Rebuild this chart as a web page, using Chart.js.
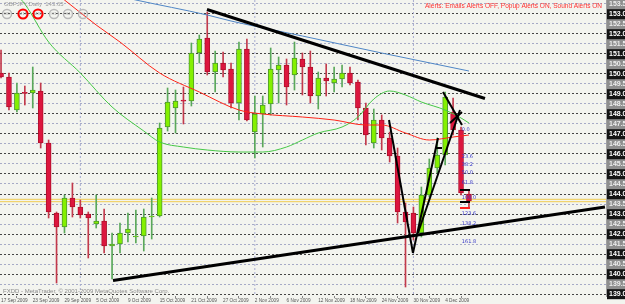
<!DOCTYPE html>
<html>
<head>
<meta charset="utf-8">
<script src="https://cdn.jsdelivr.net/npm/chart.js@4.4.0/dist/chart.umd.min.js"></script>
<style>
html, body { margin: 0; padding: 0; background: #f3f4ef; overflow: hidden; }
#grafico { display: block; }
</style>
</head>
<body>
<canvas id="grafico" width="625" height="304"></canvas>
<script>
// Candles (daily), index 0 = 17 Sep 2009
const opens  = [150.05,149.85,148.20,149.08,149.05,149.15,146.55,143.05,142.35,143.80,
                143.35,143.00,142.50,142.65,141.40,141.50,142.05,141.85,141.90,142.85,
                142.90,147.35,148.30,148.66,148.65,151.05,151.80,150.10,150.55,150.25,
                148.55,151.25,147.10,148.00,148.50,150.20,150.45,149.95,150.75,150.35,
                148.90,149.80,149.55,149.75,150.05,149.60,148.30,146.55,147.70,146.80,
                145.90,143.10,143.05,142.05,143.95,145.30,145.95,148.10,147.20,144.00];
const highs  = [151.20,150.05,149.55,149.40,150.35,149.55,146.70,143.10,143.95,144.55,
                143.70,143.10,143.95,143.25,142.05,142.55,143.05,143.20,143.25,143.80,
                147.55,149.30,149.20,149.35,151.55,151.95,153.10,151.15,151.10,150.55,
                151.60,151.75,148.90,148.90,151.30,150.85,150.75,151.60,151.05,151.15,
                150.10,150.50,150.35,150.45,150.35,149.70,148.55,148.25,147.95,147.10,
                146.30,143.55,143.35,144.35,145.75,146.80,149.10,148.80,147.35,144.20];
const lows   = [149.80,148.20,148.10,148.45,148.30,146.30,142.80,139.55,142.05,142.85,
                142.80,140.80,142.30,141.05,139.75,141.05,141.60,141.55,141.15,141.75,
                142.85,147.15,147.05,147.50,148.40,150.55,149.95,149.10,149.85,148.30,
                147.70,147.65,145.80,146.35,147.95,148.55,148.45,149.20,148.95,148.55,
                148.25,148.90,149.10,149.35,149.45,147.70,146.45,146.30,146.20,145.60,
                142.55,139.35,141.70,141.85,143.85,145.05,145.45,146.95,143.95,143.35];
const closes = [149.85,148.35,149.05,149.03,149.20,146.55,143.10,142.35,143.80,143.35,
                142.95,142.80,142.65,141.40,141.50,142.05,142.25,141.90,142.85,142.90,
                147.30,148.60,148.65,148.64,151.05,151.75,150.10,150.55,150.20,148.55,
                151.25,147.70,148.00,148.45,150.25,150.45,149.35,150.80,150.35,148.90,
                149.80,149.65,149.75,150.05,149.55,148.30,146.95,147.70,146.80,145.90,
                143.10,142.60,142.05,143.95,145.30,145.95,148.85,147.20,144.05,143.65];

// Moving averages: [bar index, price]
const maBlue  = [[12,154.15],[17,153.70],[26,152.95],[29,152.65],[38,151.90],[48,151.05],[59,150.15]];
const maRed   = [[7,154.00],[8,153.70],[12,152.45],[15,151.60],[20,150.05],[25,149.10],[30,148.20],
                 [33,148.00],[38,147.85],[42,147.70],[46,147.45],[48,147.45],[51,147.05],[54,146.70],
                 [57,146.85],[59,146.95]];
const maGreen = [[2,153.95],[3,153.50],[6,151.60],[10,150.05],[14,148.35],[18,147.15],[20,146.60],
                 [23,146.35],[26,146.20],[30,146.10],[33,146.10],[36,146.35],[38,146.70],[40,147.05],
                 [43,147.35],[45,147.85],[47,148.75],[49,149.15],[51,148.95],[53,148.60],[56,148.20],
                 [58,147.80],[59,147.55]];

// Hand drawn objects: [bar index, price]
const trendLines = [
    [[25.97,153.225],[61.02,148.775]],
    [[14.12,139.675],[76.15,143.35]]
];
const vLines = [
    [[48.92,147.70],[51.94,141.05]],
    [[51.94,141.05],[55.10,146.80]],
    [[52.57,142.05],[57.87,148.20]],
    [[55.73,149.10],[58.12,147.45]],
    [[56.61,147.55],[58.12,148.10]]
];
const shortBlack = [[54.72,55.60,146.30],[57.87,59.13,144.20],[57.87,59.13,143.60]];
const shortRed = [[57.87,59.13,143.30]];
const fibLabels = ['0.0','23.6','38.2','50.0','61.8','100.0','123.6','138.2','161.8'];
const fibPrices = [147.20,145.85,145.45,145.05,144.55,143.80,143.00,142.50,141.60];
const fibIdx = 58.1;

const bidLevels = [143.735, 143.615];
const separators = [10, 32, 52];

const dateLabels = ['17 Sep 2009','23 Sep 2009','29 Sep 2009','5 Oct 2009','9 Oct 2009','15 Oct 2009',
                    '21 Oct 2009','27 Oct 2009','2 Nov 2009','6 Nov 2009','12 Nov 2009','18 Nov 2009',
                    '24 Nov 2009','30 Nov 2009','4 Dec 2009'];
const dateTickIdx = [0,4,8,12,16,20,24,28,32,36,40,44,48,52,56];
const priceTicks = [139.0,139.5,140.0,140.5,141.0,141.5,142.0,142.5,143.0,143.5,144.0,144.5,
                    145.0,145.5,146.0,146.5,147.0,147.5,148.0,148.5,149.0,149.5,150.0,150.5,
                    151.0,151.5,152.0,152.5,153.0,153.5];

const X_MIN = -0.13, X_MAX = 76.28, Y_MIN = 138.9, Y_MAX = 153.7;

const indices = opens.map((_, i) => i);
const isUp = i => closes[i] >= opens[i];
const inteiro = ctx => ctx.tick && Number.isInteger(ctx.tick.value);

function linha(pontos, cor, largura, extra) {
    return Object.assign({
        type: 'line',
        data: pontos.map(p => ({ x: p[0], y: p[1] })),
        borderColor: cor,
        borderWidth: largura,
        pointRadius: 0,
        fill: false,
        order: 0
    }, extra || {});
}

const datasets = [
    {
        type: 'bar',
        data: indices.map(i => ({ x: i, y: [lows[i], highs[i]] })),
        backgroundColor: ctx => isUp(ctx.dataIndex) ? '#5aa85a' : '#c23a4c',
        barThickness: 1,
        grouped: false,
        order: 5
    },
    {
        type: 'bar',
        data: indices.map(i => ({ x: i, y: [opens[i], closes[i]] })),
        backgroundColor: ctx => isUp(ctx.dataIndex) ? '#84f000' : '#dc163e',
        borderColor: ctx => isUp(ctx.dataIndex) ? '#4e9a2e' : '#b0102c',
        borderWidth: 1,
        borderSkipped: false,
        barThickness: 5,
        minBarLength: 1,
        grouped: false,
        order: 4
    },
    linha(maBlue, '#4f86c6', 1, { tension: 0.4, cubicInterpolationMode: 'monotone', order: 3 }),
    linha(maRed, '#ff2418', 1, { tension: 0.4, cubicInterpolationMode: 'monotone', order: 3 }),
    linha(maGreen, '#46c846', 1, { tension: 0.4, cubicInterpolationMode: 'monotone', order: 3 })
];
bidLevels.forEach(p => datasets.push(linha([[X_MIN, p], [X_MAX, p]], '#f0cc50', 1, { order: 6 })));
separators.forEach(s => datasets.push(linha([[s, Y_MAX], [s, Y_MIN]], '#a8acd0', 1, { borderDash: [2, 2], order: 7 })));
trendLines.forEach(t => datasets.push(linha(t, '#000000', 3, { order: 0 })));
vLines.forEach(t => datasets.push(linha(t, '#000000', 2, { order: 0 })));
shortBlack.forEach(s => datasets.push(linha([[s[0], s[2]], [s[1], s[2]]], '#000000', 2, { order: 0 })));
shortRed.forEach(s => datasets.push(linha([[s[0], s[2]], [s[1], s[2]]], '#ff2020', 2, { order: 0 })));

const extras = {
    id: 'extras',
    beforeDraw(chart) {
        const ctx = chart.ctx;
        ctx.save();
        ctx.fillStyle = '#f3f4ef';
        ctx.fillRect(0, 0, chart.width, chart.height);
        ctx.restore();
    },
    afterDraw(chart) {
        const ctx = chart.ctx;
        const x = chart.scales.x, y = chart.scales.y;
        ctx.save();
        // fibonacci labels
        ctx.font = '5px "DejaVu Sans"';
        ctx.fillStyle = '#3a3ac8';
        ctx.textBaseline = 'middle';
        fibLabels.forEach((t, k) => ctx.fillText(t, x.getPixelForValue(fibIdx), y.getPixelForValue(fibPrices[k])));
        // header
        ctx.font = '6px "Liberation Sans"';
        ctx.fillStyle = '#9a9a9a';
        ctx.textBaseline = 'top';
        ctx.fillText('GBPJPY,Daily  143.65', 4, 1);
        const botoes = ['M5', 'M15', 'M30', 'H1', 'H4', 'D1'];
        const cx = [7, 23, 38, 54, 68, 83];
        botoes.forEach((b, k) => {
            const vermelho = k === 1 || k === 2;
            ctx.beginPath();
            ctx.arc(cx[k], 14, 4.5, 0, Math.PI * 2);
            ctx.lineWidth = vermelho ? 2.2 : 1.5;
            ctx.strokeStyle = vermelho ? '#ff0000' : '#b8b8b8';
            ctx.stroke();
            ctx.font = '4px "Liberation Sans"';
            ctx.fillStyle = '#a0a0a0';
            ctx.textAlign = 'center';
            ctx.textBaseline = 'middle';
            ctx.fillText(b, cx[k], 14);
        });
        ctx.textAlign = 'right';
        ctx.textBaseline = 'middle';
        ctx.font = '6.5px "Liberation Sans"';
        ctx.fillStyle = '#ff3030';
        ctx.fillText('Alerts: Emails Alerts OFF, Popup Alerts ON, Sound Alerts ON', 602, 6);
        ctx.textAlign = 'left';
        ctx.fillStyle = '#8a8a8a';
        ctx.font = '6px "Liberation Sans"';
        ctx.fillText('FXDD - MetaTrader, \u00a9 2001-2009 MetaQuotes Software Corp.', 3, 291);
        ctx.restore();
    }
};

new Chart(document.getElementById('grafico'), {
    data: { datasets: datasets },
    options: {
        responsive: false,
        devicePixelRatio: 1,
        animation: false,
        layout: { padding: 0 },
        plugins: { legend: { display: false }, tooltip: { enabled: false }, title: { display: false } },
        scales: {
            x: {
                type: 'linear',
                min: X_MIN,
                max: X_MAX,
                offset: false,
                afterBuildTicks: scale => { scale.ticks = dateTickIdx.map(v => ({ value: v })); },
                afterFit: scale => { scale.height = 8; scale.paddingLeft = 0; scale.paddingRight = 0; },
                ticks: {
                    autoSkip: false,
                    maxRotation: 0,
                    align: 'start',
                    padding: 0,
                    color: '#555555',
                    font: { size: 4.7, family: 'Liberation Sans' },
                    callback: v => { const k = dateTickIdx.indexOf(v); return k >= 0 ? dateLabels[k] : ''; }
                },
                grid: { drawOnChartArea: false, drawTicks: true, tickLength: 2, color: '#888888' },
                border: { display: false }
            },
            y: {
                position: 'right',
                min: Y_MIN,
                max: Y_MAX,
                afterBuildTicks: scale => { scale.ticks = priceTicks.map(v => ({ value: v })); },
                afterFit: scale => { scale.width = 19; scale.paddingTop = 0; scale.paddingBottom = 0; },
                ticks: {
                    autoSkip: false,
                    padding: 3,
                    font: { size: 7, weight: 'bold', family: 'Liberation Sans' },
                    color: ctx => inteiro(ctx) ? '#ffffff' : '#eeeeee',
                    showLabelBackdrop: true,
                    backdropColor: ctx => inteiro(ctx) ? '#141414' : '#8e8e8e',
                    backdropPadding: { x: 2, y: 1 },
                    callback: v => v.toFixed(2)
                },
                grid: {
                    drawTicks: false,
                    color: ctx => inteiro(ctx) ? '#444444' : '#a6aac6',
                    borderDash: [2, 2]
                },
                border: { display: true, color: '#a0a0a0', width: 1, dash: [2, 2] }
            }
        }
    },
    plugins: [extras]
});
</script>
</body>
</html>
